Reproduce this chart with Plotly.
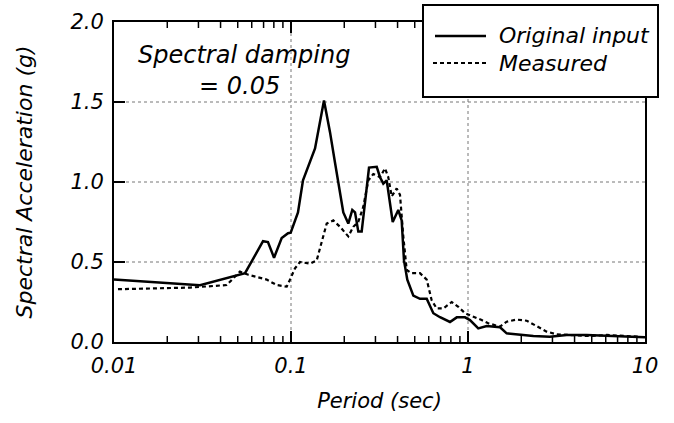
import plotly.graph_objects as go

# ---- data ----
period_orig = [0.01, 0.0306, 0.055, 0.0695, 0.0741, 0.0802, 0.0886, 0.0962, 0.0996,
               0.1095, 0.1169, 0.1367, 0.1536, 0.1662, 0.1773, 0.1975, 0.2107, 0.222,
               0.230, 0.240, 0.2508, 0.2678, 0.2759, 0.305, 0.3184, 0.3323, 0.3473,
               0.3755, 0.4038, 0.422, 0.4349, 0.454, 0.491, 0.5355, 0.5845, 0.637,
               0.695, 0.791, 0.864, 0.962, 1.026, 1.143, 1.275, 1.517, 1.654, 2.05,
               2.34, 2.90, 3.61, 4.68, 6.59, 9.37, 10.0]
sa_orig = [0.39, 0.355, 0.43, 0.63, 0.625, 0.527, 0.65, 0.68, 0.683,
           0.81, 1.01, 1.21, 1.51, 1.31, 1.12, 0.81, 0.74, 0.825,
           0.81, 0.69, 0.69, 0.95, 1.09, 1.095, 1.03, 0.99, 1.01,
           0.75, 0.825, 0.76, 0.51, 0.39, 0.29, 0.27, 0.27, 0.18,
           0.155, 0.125, 0.154, 0.154, 0.137, 0.085, 0.10, 0.092, 0.054, 0.044,
           0.037, 0.033, 0.044, 0.044, 0.037, 0.033, 0.03]

period_meas = [0.01053, 0.0269, 0.0433, 0.0515, 0.0574, 0.0729, 0.083, 0.0946, 0.0987,
               0.1053, 0.1124, 0.128, 0.1397, 0.1491, 0.1591, 0.1734, 0.1892, 0.2107,
               0.2249, 0.240, 0.2562, 0.2734, 0.2917, 0.3184, 0.3397, 0.3545, 0.3707,
               0.3955, 0.4129, 0.431, 0.4505, 0.4808, 0.5355, 0.5845, 0.6237, 0.6656,
               0.7253, 0.809, 0.8817, 0.962, 1.0715, 1.195, 1.302, 1.517, 1.654, 1.884,
               2.146, 2.443, 2.783, 3.17, 3.935, 4.89, 6.076, 7.88, 9.37]
sa_meas = [0.33, 0.34, 0.356, 0.44, 0.42, 0.39, 0.356, 0.346, 0.39,
           0.46, 0.50, 0.49, 0.51, 0.62, 0.74, 0.76, 0.72, 0.66,
           0.72, 0.75, 0.846, 1.01, 1.05, 1.03, 1.085, 1.03, 0.91,
           0.96, 0.92, 0.66, 0.45, 0.43, 0.43, 0.39, 0.26, 0.21,
           0.21, 0.25, 0.22, 0.18, 0.16, 0.137, 0.117, 0.096, 0.127, 0.14,
           0.133, 0.10, 0.065, 0.048, 0.044, 0.037, 0.044, 0.037, 0.033]

x_major_vals = [0.1, 1]
x_minor_vals = [m * d for d in (0.01, 0.1, 1) for m in range(2, 10)]
y_major_vals = [0.5, 1.0, 1.5]
legend_labels = ["Original input", "Measured"]
note_text = "<i>Spectral damping</i><br>" + "&nbsp;" * 8 + "<i>= 0.05</i>"

FONT = "DejaVu Sans"

# plot area in pixels
W, H = 674, 423
L, R, T, B = 114, 645, 22, 342
def px(x):
    return (x - L) / (R - L)
def py(y):
    return (B - y) / (B - T)

fig = go.Figure()
fig.add_trace(go.Scatter(x=period_orig, y=sa_orig, mode="lines", name=legend_labels[0],
                         line=dict(color="black", width=2.5), showlegend=False))
fig.add_trace(go.Scatter(x=period_meas, y=sa_meas, mode="lines", name=legend_labels[1],
                         line=dict(color="black", width=2.2, dash="4px,3px"), showlegend=False))

line = dict(showline=True, linecolor="black", linewidth=2, showgrid=False, zeroline=False)
tickfont = dict(family=FONT, size=21, color="black")

fig.update_xaxes(type="log", range=[-2, 1], dtick=1, exponentformat="none",
                 tickprefix="<i>", ticksuffix="</i>", ticks="", mirror=True,
                 tickfont=tickfont, ticklabelstandoff=4,
                 title=dict(text="<i>Period (sec)</i>", standoff=16,
                            font=dict(family=FONT, size=21, color="black")),
                 **line)
fig.update_yaxes(range=[0, 2], tick0=0, dtick=0.5, tickformat=".1f",
                 tickprefix="<i>", ticksuffix="</i>", ticks="", mirror=True,
                 tickfont=tickfont, ticklabelstandoff=4,
                 title=dict(text="<i>Spectral Acceleration (g)</i>", standoff=32,
                            font=dict(family=FONT, size=22, color="black")),
                 **line)

grid_style = dict(color="#777777", width=1, dash="dot")
shapes = []
# dotted grid at the major ticks
for v in x_major_vals:
    shapes.append(dict(type="line", xref="x", yref="paper", x0=v, x1=v, y0=0, y1=1,
                       line=grid_style, layer="below"))
for v in y_major_vals:
    shapes.append(dict(type="line", xref="paper", yref="y", x0=0, x1=1, y0=v, y1=v,
                       line=grid_style, layer="below"))

# inside tick marks (bottom and top for x, left for y)
maj_h = 11 / (B - T)
min_h = 6 / (B - T)
maj_w = 11 / (R - L)
for v in x_major_vals:
    for y0, y1 in ((0, maj_h), (1 - maj_h, 1)):
        shapes.append(dict(type="line", xref="x", yref="paper", x0=v, x1=v, y0=y0, y1=y1,
                           line=dict(color="black", width=2), layer="above"))
for v in x_minor_vals:
    for y0, y1 in ((0, min_h), (1 - min_h, 1)):
        shapes.append(dict(type="line", xref="x", yref="paper", x0=v, x1=v, y0=y0, y1=y1,
                           line=dict(color="black", width=1.5), layer="above"))
for v in y_major_vals:
    shapes.append(dict(type="line", xref="paper", yref="y", x0=0, x1=maj_w, y0=v, y1=v,
                       line=dict(color="black", width=2), layer="above"))

# legend box (drawn manually)
shapes += [
    dict(type="rect", xref="paper", yref="paper", x0=px(423), x1=px(658), y0=py(97), y1=py(5),
         line=dict(color="black", width=2), fillcolor="white", layer="above"),
    dict(type="line", xref="paper", yref="paper", x0=px(435), x1=px(486), y0=py(36), y1=py(36),
         line=dict(color="black", width=2.5), layer="above"),
    dict(type="line", xref="paper", yref="paper", x0=px(433), x1=px(488), y0=py(63), y1=py(63),
         line=dict(color="black", width=2.2, dash="4px,3px"), layer="above"),
]
annotations = [
    dict(text="<i>" + legend_labels[0] + "</i>", xref="paper", yref="paper", x=px(497), y=py(36),
         xanchor="left", yanchor="middle", showarrow=False,
         font=dict(family=FONT, size=22, color="black")),
    dict(text="<i>" + legend_labels[1] + "</i>", xref="paper", yref="paper", x=px(497), y=py(63),
         xanchor="left", yanchor="middle", showarrow=False,
         font=dict(family=FONT, size=22, color="black")),
    dict(text=note_text, xref="paper", yref="paper", x=px(136), y=py(39),
         xanchor="left", yanchor="top", align="left", showarrow=False,
         font=dict(family=FONT, size=24, color="black")),
]

fig.update_layout(width=W, height=H,
                  margin=dict(l=L, r=W - R, t=T, b=H - B, autoexpand=False),
                  paper_bgcolor="white", plot_bgcolor="white",
                  shapes=shapes, annotations=annotations, showlegend=False)

fig.write_html("out.html")
